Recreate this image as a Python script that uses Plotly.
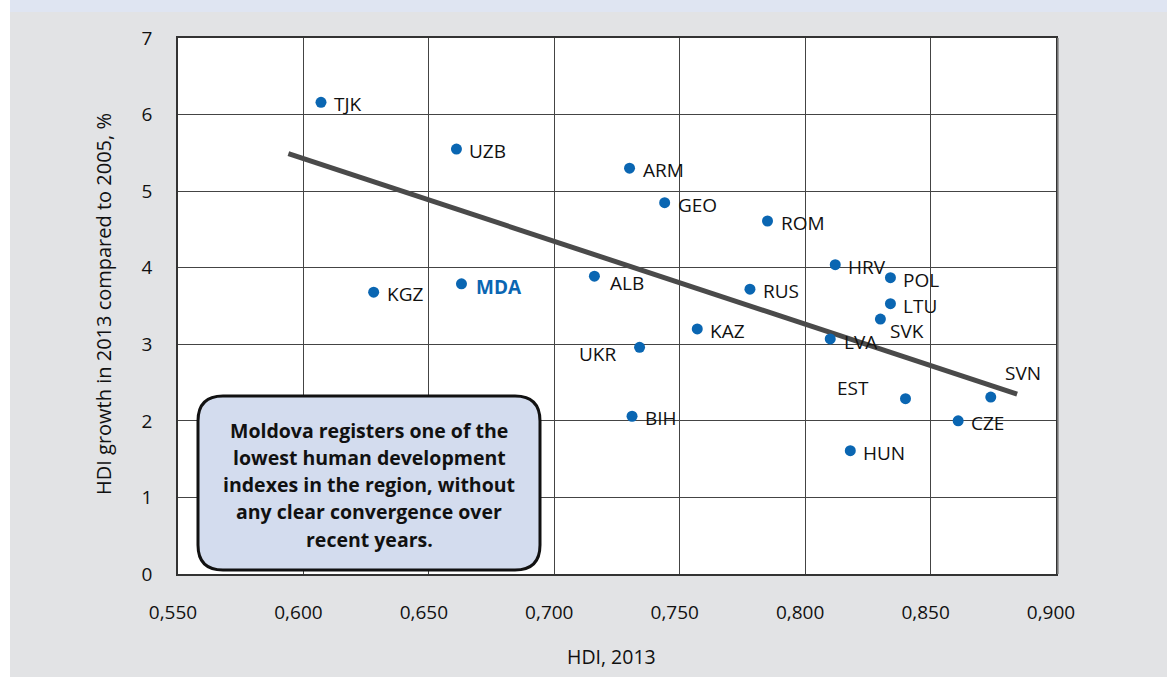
import plotly.graph_objects as go

# ---- data ----
countries = ["TJK", "UZB", "ARM", "GEO", "ROM", "HRV", "POL", "LTU", "SVK", "LVA",
             "RUS", "ALB", "KAZ", "UKR", "BIH", "MDA", "KGZ", "EST", "SVN", "CZE", "HUN"]
hdi_2013 = [0.607, 0.661, 0.730, 0.744, 0.785, 0.812, 0.834, 0.834, 0.830, 0.810,
            0.778, 0.716, 0.757, 0.734, 0.731, 0.663, 0.628, 0.840, 0.874, 0.861, 0.818]
hdi_growth = [6.16, 5.55, 5.30, 4.85, 4.61, 4.04, 3.87, 3.53, 3.33, 3.07,
              3.72, 3.89, 3.20, 2.96, 2.06, 3.79, 3.68, 2.29, 2.31, 2.00, 1.61]
trend_x = [0.594, 0.8845]
trend_y = [5.49, 2.35]
x_ticks = [0.55, 0.60, 0.65, 0.70, 0.75, 0.80, 0.85, 0.90]
x_tick_labels = ["0,550", "0,600", "0,650", "0,700", "0,750", "0,800", "0,850", "0,900"]
y_ticks = [0, 1, 2, 3, 4, 5, 6, 7]
box_lines = ["Moldova registers one of the", "lowest human development",
             "indexes in the region, without", "any clear convergence over",
             "recent years."]

# ---- layout geometry (pixels) ----
W, H = 1167, 677
L, R, T, B = 178, 1056, 38, 574
PW, PH = R - L, B - T

def px(X):
    return (X - L) / PW

def py(Y):
    return (B - Y) / PH

FONT = "Open Sans"
BLUE = "#0a66b2"
TXT = "#111111"

fig = go.Figure()

fig.add_trace(go.Scatter(x=trend_x, y=trend_y, mode="lines",
                         line=dict(color="#4a4a4a", width=5), hoverinfo="skip",
                         showlegend=False))
fig.add_trace(go.Scatter(x=hdi_2013, y=hdi_growth, mode="markers",
                         marker=dict(color=BLUE, size=11), text=countries,
                         showlegend=False))

# label placement (pixel offsets)
default_off = dict(xanchor="left", xshift=11, yshift=-2)
special = {
    "SVK": dict(xanchor="left", xshift=8, yshift=-12),
    "ALB": dict(xanchor="left", xshift=14, yshift=-7),
    "UKR": dict(xanchor="right", xshift=-22, yshift=-7),
    "EST": dict(xanchor="right", xshift=-34, yshift=11),
    "SVN": dict(xanchor="left", xshift=12, yshift=24),
    "LVA": dict(xanchor="left", xshift=12, yshift=-3),
    "MDA": dict(xanchor="left", xshift=13, yshift=-3),
}
annotations = []
for c, xv, yv in zip(countries, hdi_2013, hdi_growth):
    o = special.get(c, default_off)
    if c == "MDA":
        txt = "<b>MDA</b>"
        col = BLUE
    else:
        txt = c
        col = TXT
    annotations.append(dict(x=xv, y=yv, xref="x", yref="y", text=txt, showarrow=False,
                            xanchor=o["xanchor"], yanchor="middle",
                            xshift=o["xshift"], yshift=o["yshift"],
                            font=dict(family=FONT, size=19, color=col)))

# text box lines
box_cx = (198 + 540) / 2
line_y = [430, 457, 485, 512, 539]
for t, ly in zip(box_lines, line_y):
    annotations.append(dict(x=px(box_cx), y=py(ly), xref="paper", yref="paper",
                            text="<b>" + t + "</b>", showarrow=False,
                            xanchor="center", yanchor="middle",
                            font=dict(family=FONT, size=19.5, color=TXT)))

# axis titles
annotations.append(dict(x=px(611), y=py(656), xref="paper", yref="paper",
                        text="HDI, 2013", showarrow=False, xanchor="center", yanchor="middle",
                        font=dict(family=FONT, size=19.5, color=TXT)))
annotations.append(dict(x=px(103), y=py(304), xref="paper", yref="paper",
                        text="HDI growth in 2013 compared to 2005, %", showarrow=False,
                        textangle=-90, xanchor="center", yanchor="middle",
                        font=dict(family=FONT, size=20, color=TXT)))

# rounded box path
x0, x1, y0, y1, r = 198, 540, 396, 570, 25
def P(X, Y):
    return f"{px(X):.5f},{py(Y):.5f}"
path = (f"M {P(x0 + r, y0)} L {P(x1 - r, y0)} Q {P(x1, y0)} {P(x1, y0 + r)} "
        f"L {P(x1, y1 - r)} Q {P(x1, y1)} {P(x1 - r, y1)} "
        f"L {P(x0 + r, y1)} Q {P(x0, y1)} {P(x0, y1 - r)} "
        f"L {P(x0, y0 + r)} Q {P(x0, y0)} {P(x0 + r, y0)} Z")

shapes = [
    # top band
    dict(type="rect", xref="paper", yref="paper", x0=px(10), x1=px(W + 5), y0=py(12), y1=py(-5),
         fillcolor="#dfe5f2", line=dict(width=0), layer="below"),
    # left white strip
    dict(type="rect", xref="paper", yref="paper", x0=px(-5), x1=px(10), y0=py(H + 5), y1=py(-5),
         fillcolor="#ffffff", line=dict(width=0), layer="below"),
    # right shadow line
    dict(type="line", xref="paper", yref="paper", x0=px(1058), x1=px(1058), y0=py(B), y1=py(T),
         line=dict(color="#8a8a8a", width=1.5)),
    # text box
    dict(type="path", xref="paper", yref="paper", path=path, fillcolor="#d3dcee",
         line=dict(color="#111111", width=3), layer="above"),
]

fig.update_layout(
    width=W, height=H,
    margin=dict(l=L, r=W - R, t=T, b=H - B, pad=0),
    paper_bgcolor="#e2e3e5", plot_bgcolor="#ffffff",
    font=dict(family=FONT, size=19, color=TXT),
    annotations=annotations, shapes=shapes,
    showlegend=False,
)
fig.update_xaxes(range=[0.55, 0.90], tickvals=x_ticks, ticktext=x_tick_labels,
                 showgrid=True, gridcolor="#444444", gridwidth=1,
                 showline=True, linecolor="#333333", linewidth=1.5, mirror=True,
                 ticks="", ticklabelstandoff=20, ticklabelshift=-5, zeroline=False,
                 tickfont=dict(family=FONT, size=19, color=TXT))
fig.update_yaxes(range=[0, 7], tickvals=y_ticks,
                 showgrid=True, gridcolor="#444444", gridwidth=1,
                 showline=True, linecolor="#333333", linewidth=1.5, mirror=True,
                 ticks="", ticklabelstandoff=20, zeroline=False,
                 tickfont=dict(family=FONT, size=19, color=TXT))

fig.write_html("out.html", config={"displayModeBar": False},
               post_script="document.body.style.margin='0px';document.body.style.overflow='hidden';")
